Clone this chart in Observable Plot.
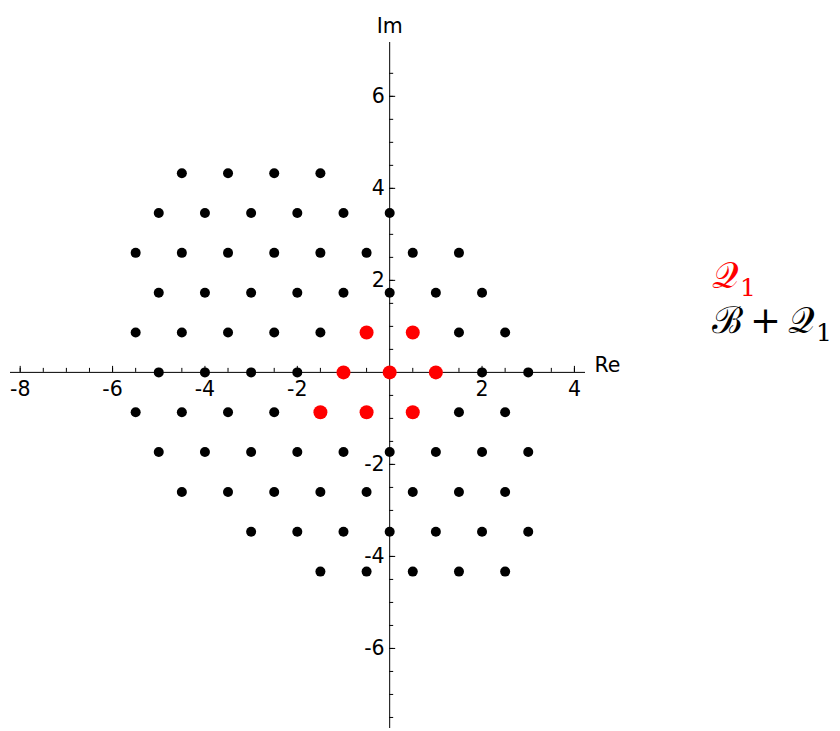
<!DOCTYPE html>
<html>
<head>
<meta charset="utf-8">
<script src="https://cdn.jsdelivr.net/npm/d3@7"></script>
<script src="https://cdn.jsdelivr.net/npm/@observablehq/plot@0.6"></script>
<style>
  html, body { margin: 0; padding: 0; background: #fff; }
  #wrap { position: relative; width: 840px; height: 731px; }
  #legend { position: absolute; left: 712px; top: 253px; font-family: "DejaVu Serif", "Liberation Serif", serif; font-size: 37px; line-height: 45px; white-space: nowrap; }
  #legend sub { font-style: normal; font-size: 25px; vertical-align: -8px; line-height: 0; margin-left: 1px; }
  #legend .plus { font-family: "DejaVu Serif", serif; margin: 0 7px; }
</style>
</head>
<body>
<div id="wrap"><div id="chart"></div>
<div id="legend"><div style="color:#ff0000">𝒬<sub>1</sub></div><div style="color:#000">ℬ<span class="plus">+</span>𝒬<sub>1</sub></div></div>
</div>
<script>
// Imaginary part of each lattice row
const rowIm = [4.330, 3.464, 2.598, 1.732, 0.866, 0, -0.866, -1.732, -2.598, -3.464, -4.330];
// Real parts of the B+Q1 points in each row
const rowRe = [
  [-4.5, -3.5, -2.5, -1.5],
  [-5, -4, -3, -2, -1, 0],
  [-5.5, -4.5, -3.5, -2.5, -1.5, -0.5, 0.5, 1.5],
  [-5, -4, -3, -2, -1, 0, 1, 2],
  [-5.5, -4.5, -3.5, -2.5, -1.5, -0.5, 0.5, 1.5, 2.5],
  [-5, -4, -3, -2, -1, 0, 1, 2, 3],
  [-5.5, -4.5, -3.5, -2.5, -1.5, -0.5, 0.5, 1.5, 2.5],
  [-5, -4, -3, -2, -1, 0, 1, 2, 3],
  [-4.5, -3.5, -2.5, -1.5, -0.5, 0.5, 1.5, 2.5],
  [-3, -2, -1, 0, 1, 2, 3],
  [-1.5, -0.5, 0.5, 1.5, 2.5]
];
// Q1 points
const q1Re = [-0.5, 0.5, -1, 0, 1, -1.5, -0.5, 0.5];
const q1Im = [0.866, 0.866, 0, 0, 0, -0.866, -0.866, -0.866];
// Ticks
const xMajor = [-8, -6, -4, -2, 2, 4];
const yMajor = [-6, -4, -2, 2, 4, 6];
const xMinor = d3.range(-8, 4.01, 0.5);
const yMinor = d3.range(-7.5, 6.51, 0.5);

const bq = rowRe.flatMap((xs, i) => xs.map(x => ({re: x, im: rowIm[i]})));
const q1 = q1Re.map((x, i) => ({re: x, im: q1Im[i]}));

const fs = 20.5;
const plot = Plot.plot({
  width: 840,
  height: 731,
  marginLeft: 10,
  marginRight: 255,
  marginTop: 42,
  marginBottom: 3,
  x: {domain: [-8.21, 4.24], axis: null},
  y: {domain: [-7.74, 7.17], axis: null},
  style: {fontFamily: "DejaVu Sans, sans-serif", fontSize: "20.5px", color: "#000", background: "#fff"},
  marks: [
    Plot.ruleY([0], {stroke: "#000", strokeWidth: 1}),
    Plot.ruleX([0], {stroke: "#000", strokeWidth: 1}),
    Plot.ruleX(xMinor, {x: d => d, y1: 0, y2: 0, insetTop: -4, stroke: "#000"}),
    Plot.ruleX(xMajor, {x: d => d, y1: 0, y2: 0, insetTop: -6, stroke: "#000"}),
    Plot.ruleY(yMinor, {y: d => d, x1: 0, x2: 0, insetRight: -4, stroke: "#000"}),
    Plot.ruleY(yMajor, {y: d => d, x1: 0, x2: 0, insetRight: -6, stroke: "#000"}),
    Plot.text(xMajor, {x: d => d, y: 0, dy: 17, text: d => String(d), fill: "#000", fontSize: fs}),
    Plot.text(yMajor, {y: d => d, x: 0, dx: -5, textAnchor: "end", text: d => String(d), fill: "#000", fontSize: fs}),
    Plot.text(["Im"], {x: 0, frameAnchor: "top", dy: -24, text: d => d, fill: "#000", fontSize: fs}),
    Plot.text(["Re"], {y: 0, frameAnchor: "right", dx: 9, dy: -7, textAnchor: "start", text: d => d, fill: "#000", fontSize: fs}),
    Plot.dot(bq, {x: "re", y: "im", r: 5, fill: "#000", stroke: "none"}),
    Plot.dot(q1, {x: "re", y: "im", r: 7, fill: "#ff0000", stroke: "none"})
  ]
});
document.getElementById("chart").appendChild(plot);
</script>
</body>
</html>
